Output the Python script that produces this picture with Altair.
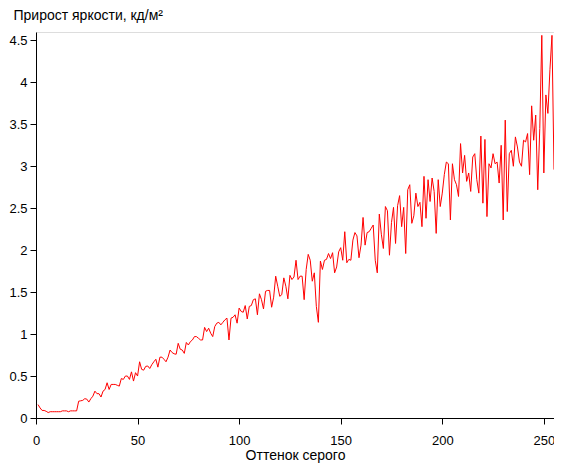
import altair as alt
import pandas as pd

# Gray level (x) and luminance increment (y)
levels = list(range(1, 256))
increments = [
    0.16, 0.12, 0.09, 0.09, 0.08, 0.065, 0.075, 0.075, 0.075, 0.075,
    0.075, 0.075, 0.085, 0.085, 0.085, 0.075, 0.085, 0.085, 0.085, 0.085,
    0.20, 0.205, 0.21, 0.23, 0.225, 0.19, 0.23, 0.26, 0.32, 0.29,
    0.29, 0.25, 0.32, 0.34, 0.42, 0.34, 0.40, 0.40, 0.40, 0.39,
    0.38, 0.47, 0.46, 0.50, 0.50, 0.46, 0.55, 0.44, 0.54, 0.50,
    0.67, 0.58, 0.57, 0.615, 0.62, 0.59, 0.635, 0.67, 0.70, 0.606,
    0.725, 0.725, 0.70, 0.67, 0.725, 0.81, 0.78, 0.765, 0.76, 0.89,
    0.82, 0.81, 0.77, 0.90, 0.87, 0.91, 0.93, 0.97, 0.97, 0.95,
    0.93, 0.93, 1.08, 1.03, 1.07, 1.01, 0.97, 1.09, 1.13, 1.14,
    1.11, 1.14, 1.17, 1.19, 0.93, 1.19, 1.20, 1.23, 1.13, 1.31,
    1.27, 1.26, 1.34, 1.18, 1.33, 1.34, 1.41, 1.42, 1.23, 1.48,
    1.41, 1.30, 1.51, 1.52, 1.52, 1.32, 1.44, 1.69, 1.57, 1.45,
    1.47, 1.67, 1.57, 1.42, 1.70, 1.65, 1.68, 1.88, 1.65, 1.69,
    1.69, 1.41, 1.77, 1.95, 1.88, 1.63, 1.73, 1.33, 1.14, 1.87,
    1.77, 1.88, 1.89, 1.96, 1.90, 1.97, 1.73, 1.80, 1.98, 2.03,
    1.88, 2.22, 1.85, 1.89, 1.88, 2.12, 2.21, 2.17, 1.91, 2.06,
    2.39, 2.06, 2.21, 2.22, 2.26, 2.30, 1.88, 1.73, 2.43, 2.19,
    2.02, 2.52, 2.47, 1.94, 2.33, 2.51, 2.08, 2.53, 2.65, 2.28,
    2.51, 1.96, 2.72, 2.78, 2.32, 2.41, 2.68, 2.52, 2.57, 2.28,
    2.88, 2.38, 2.84, 2.58, 2.86, 2.70, 2.20, 2.84, 2.52, 2.68,
    2.90, 3.05, 3.03, 2.36, 3.03, 2.84, 2.78, 2.64, 3.27, 2.92,
    3.13, 2.82, 2.92, 2.70, 3.11, 3.15, 2.84, 2.68, 3.36, 2.56,
    3.32, 2.40, 3.03, 2.98, 3.15, 3.03, 3.05, 2.80, 3.25, 2.36,
    3.55, 2.46, 3.15, 3.19, 3.00, 3.35, 3.23, 3.05, 3.00, 3.31,
    3.29, 3.39, 2.90, 3.72, 3.31, 3.61, 2.72, 3.45, 4.56, 2.92,
    3.85, 3.63, 4.15, 4.56, 2.96,
]
x_ticks = [0, 50, 100, 150, 200, 250]
y_ticks = [0, 0.5, 1, 1.5, 2, 2.5, 3, 3.5, 4, 4.5]

df = pd.DataFrame({"level": levels, "inc": increments})

font = "Liberation Sans"

chart = alt.Chart(df).mark_line(color="#ff0000", strokeWidth=1, interpolate="linear").encode(
    x=alt.X("level:Q",
            scale=alt.Scale(domain=[0, 255], nice=False, zero=False),
            axis=alt.Axis(values=x_ticks, title="Оттенок серого", grid=False,
                          domainColor="#000000", tickColor="#000000", tickSize=6,
                          labelFont=font, labelFontSize=13, labelColor="#000000",
                          labelPadding=10, labelFlush=False,
                          titleFont=font, titleFontSize=14, titleFontWeight="normal",
                          titleColor="#000000", titleAnchor="middle", titleBaseline="alphabetic",
                          titleY=41)),
    y=alt.Y("inc:Q",
            scale=alt.Scale(domain=[0, 4.6], nice=False),
            axis=alt.Axis(values=y_ticks, format=".2~f", title="Прирост яркости, кд/м²", grid=False,
                          domainColor="#000000", tickColor="#000000", tickSize=6,
                          labelFont=font, labelFontSize=13, labelColor="#000000",
                          labelPadding=3, labelFlush=False,
                          titleFont=font, titleFontSize=14, titleFontWeight="normal",
                          titleColor="#000000", titleAngle=0, titleAlign="left",
                          titleBaseline="alphabetic", titleX=-23, titleY=-13)),
).properties(
    width=518,
    height=386,
    autosize=alt.AutoSizeParams(type="none"),
    padding={"left": 28, "top": 24, "right": 0, "bottom": 45},
).configure_view(stroke=None).configure(background="#ffffff")

chart.save("out.html", embed_options={"renderer": "svg", "actions": False})
